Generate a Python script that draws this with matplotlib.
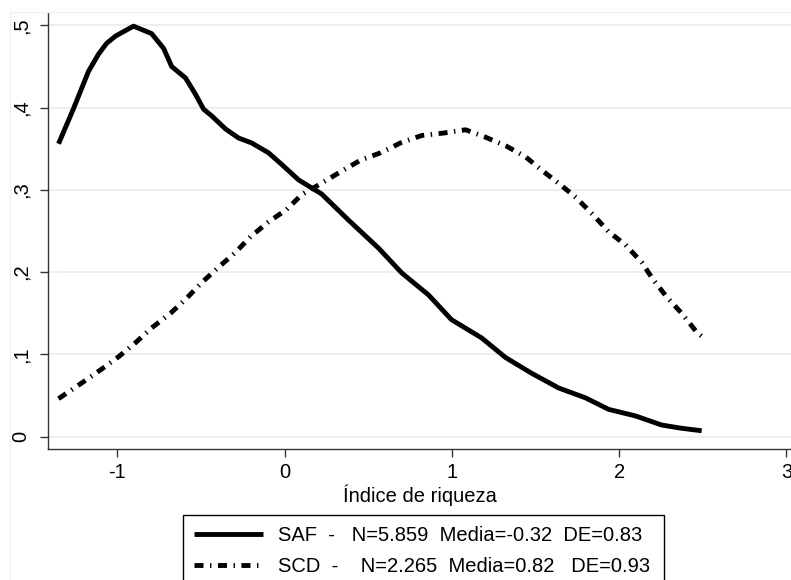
"""Kernel density of the wealth index, SAF vs SCD (Stata-style mono scheme)."""

import matplotlib
matplotlib.use("Agg")
import matplotlib.pyplot as plt
from matplotlib.patches import Rectangle

# values
saf_x = [-1.351, -1.261, -1.172, -1.112, -1.064, -1.010, -0.903, -0.795, -0.723,
         -0.675, -0.592, -0.532, -0.484, -0.436, -0.353, -0.275, -0.197, -0.096,
         -0.018, 0.084, 0.221, 0.383, 0.562, 0.700, 0.861, 0.998, 1.177, 1.321,
         1.476, 1.638, 1.799, 1.937, 2.098, 2.253, 2.373, 2.493]
saf_y = [0.356, 0.399, 0.444, 0.465, 0.478, 0.487, 0.499, 0.490, 0.472,
         0.450, 0.436, 0.416, 0.398, 0.390, 0.374, 0.363, 0.357, 0.345,
         0.331, 0.312, 0.295, 0.263, 0.229, 0.199, 0.172, 0.142, 0.120, 0.096,
         0.077, 0.059, 0.047, 0.033, 0.025, 0.014, 0.010, 0.007]

scd_x = [-1.351, -1.213, -1.100, -0.992, -0.891, -0.795, -0.681, -0.586, -0.496,
         -0.394, -0.293, -0.203, -0.096, 0.012, 0.102, 0.221, 0.335, 0.454,
         0.574, 0.693, 0.819, 0.950, 1.082, 1.201, 1.327, 1.441, 1.536, 1.650,
         1.745, 1.847, 1.937, 2.038, 2.134, 2.206, 2.283, 2.373, 2.463, 2.505]
scd_y = [0.046, 0.065, 0.081, 0.097, 0.114, 0.132, 0.150, 0.168, 0.187,
         0.206, 0.224, 0.243, 0.261, 0.276, 0.294, 0.308, 0.322, 0.336,
         0.345, 0.357, 0.366, 0.369, 0.373, 0.364, 0.353, 0.340, 0.324, 0.306,
         0.290, 0.269, 0.249, 0.233, 0.212, 0.190, 0.170, 0.150, 0.127, 0.120]

x_ticks = [-1, 0, 1, 2, 3]
y_ticks = [0, 0.1, 0.2, 0.3, 0.4, 0.5]
y_labels = ["0", ",1", ",2", ",3", ",4", ",5"]

lab_saf = "SAF  -   N=5.859  Media=-0.32  DE=0.83"
lab_scd = "SCD  -    N=2.265  Media=0.82   DE=0.93"

plt.rcParams["font.family"] = ["Liberation Sans", "DejaVu Sans"]
plt.rcParams["lines.scale_dashes"] = False
plt.rcParams["axes.unicode_minus"] = False

FS = 14.5

fig = plt.figure(figsize=(7.91, 5.80), dpi=100)
fig.patches.append(Rectangle((10 / 791, -0.1), 1.2, 1 - 12 / 580 + 0.1,
                             transform=fig.transFigure, fill=False,
                             edgecolor="#eef2f4", lw=1))
ax = fig.add_axes([48 / 791, 131 / 580, 743 / 791, 436 / 580])

ax.plot(saf_x, saf_y, color="black", lw=3.5, solid_capstyle="butt",
        solid_joinstyle="round", label=lab_saf)
ax.plot(scd_x, scd_y, color="black", lw=3.5, ls=(0, (6.5, 4.7, 1.0, 4.7)),
        label=lab_scd)

ax.set_xlim(-1.414, 3.027)
ax.set_ylim(-0.0152, 0.515)
ax.set_xticks(x_ticks)
ax.set_yticks(y_ticks)
ax.set_yticklabels(y_labels, rotation=90, va="center")
ax.grid(axis="y", color="#e8eef1", lw=1.3)
ax.set_axisbelow(True)
for s in ("top", "right"):
    ax.spines[s].set_visible(False)
for s in ("left", "bottom"):
    ax.spines[s].set_color("#333333")
    ax.spines[s].set_linewidth(1.0)
ax.tick_params(length=5.8, width=1.0, color="#333333", labelsize=FS)
ax.tick_params(axis="x", pad=4)
ax.tick_params(axis="y", pad=7)
ax.set_xlabel("Índice de riqueza", fontsize=FS, labelpad=2)

leg = ax.legend(loc="upper left", bbox_to_anchor=(183 / 791, 1 - 515 / 580, 481 / 791, 0),
                bbox_transform=fig.transFigure, mode="expand", borderaxespad=0,
                fontsize=FS, frameon=True, fancybox=False, edgecolor="black",
                framealpha=1, handlelength=3.4, handletextpad=0.75,
                borderpad=0.55, labelspacing=0.6)
leg.get_frame().set_linewidth(1.0)

fig.savefig("out.png", dpi=100)
